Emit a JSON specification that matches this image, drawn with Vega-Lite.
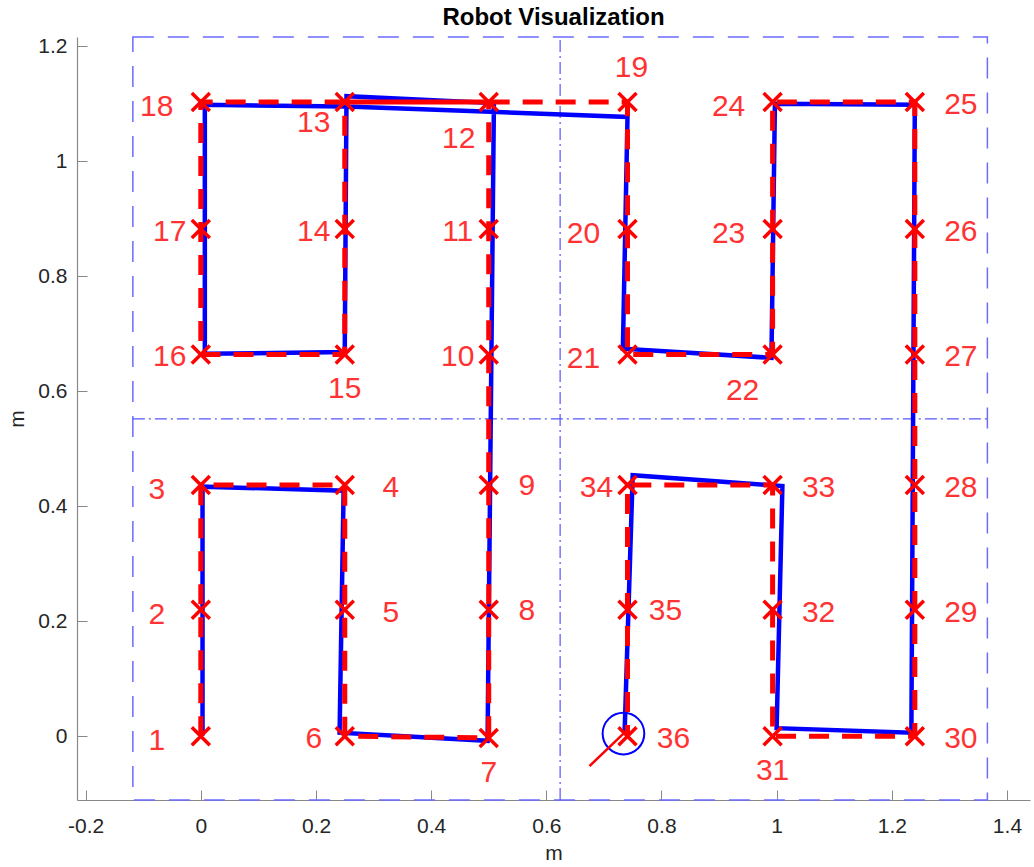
{
  "$schema": "https://vega.github.io/schema/vega-lite/v6.json",
  "width": 953,
  "height": 763,
  "autosize": {"type": "none"},
  "padding": {"left": 77, "top": 37, "right": 4, "bottom": 67},
  "title": {"text": "Robot Visualization", "font": "Liberation Sans", "fontSize": 24, "fontWeight": "bold", "color": "#000000", "offset": 5},
  "config": {
    "view": {"stroke": null},
    "axis": {
      "grid": false,
      "domainColor": "#888888",
      "domainWidth": 1.2,
      "tickColor": "#888888",
      "tickSize": -10,
      "labelFont": "Liberation Sans",
      "labelFontSize": 21,
      "labelColor": "#262626",
      "titleFont": "Liberation Sans",
      "titleFontSize": 21,
      "titleFontWeight": "normal",
      "titleColor": "#262626"
    }
  },
  "datasets": {
    "waypoints": [
      {"id": 1, "x": 0.0, "y": 0.0, "pos": "L1"},
      {"id": 2, "x": 0.0, "y": 0.22, "pos": "L1"},
      {"id": 3, "x": 0.0, "y": 0.437, "pos": "L1"},
      {"id": 4, "x": 0.25, "y": 0.437, "pos": "R"},
      {"id": 5, "x": 0.25, "y": 0.22, "pos": "R"},
      {"id": 6, "x": 0.25, "y": 0.0, "pos": "L2"},
      {"id": 7, "x": 0.5, "y": -0.003, "pos": "B"},
      {"id": 8, "x": 0.5, "y": 0.22, "pos": "R2"},
      {"id": 9, "x": 0.5, "y": 0.437, "pos": "R2"},
      {"id": 10, "x": 0.5, "y": 0.664, "pos": "L2"},
      {"id": 11, "x": 0.5, "y": 0.882, "pos": "L2"},
      {"id": 12, "x": 0.5, "y": 1.103, "pos": "BL"},
      {"id": 13, "x": 0.25, "y": 1.103, "pos": "LL"},
      {"id": 14, "x": 0.25, "y": 0.882, "pos": "L2"},
      {"id": 15, "x": 0.25, "y": 0.664, "pos": "B"},
      {"id": 16, "x": 0.0, "y": 0.664, "pos": "L2"},
      {"id": 17, "x": 0.0, "y": 0.882, "pos": "L2"},
      {"id": 18, "x": 0.0, "y": 1.103, "pos": "L1"},
      {"id": 19, "x": 0.741, "y": 1.103, "pos": "A"},
      {"id": 20, "x": 0.741, "y": 0.882, "pos": "L1"},
      {"id": 21, "x": 0.741, "y": 0.664, "pos": "L1"},
      {"id": 22, "x": 0.993, "y": 0.664, "pos": "BL"},
      {"id": 23, "x": 0.993, "y": 0.882, "pos": "L1"},
      {"id": 24, "x": 0.993, "y": 1.103, "pos": "L1"},
      {"id": 25, "x": 1.24, "y": 1.103, "pos": "R"},
      {"id": 26, "x": 1.24, "y": 0.882, "pos": "R"},
      {"id": 27, "x": 1.24, "y": 0.664, "pos": "R"},
      {"id": 28, "x": 1.24, "y": 0.437, "pos": "R"},
      {"id": 29, "x": 1.24, "y": 0.22, "pos": "R"},
      {"id": 30, "x": 1.24, "y": 0.0, "pos": "R"},
      {"id": 31, "x": 0.993, "y": 0.0, "pos": "B"},
      {"id": 32, "x": 0.993, "y": 0.22, "pos": "R"},
      {"id": 33, "x": 0.993, "y": 0.437, "pos": "R"},
      {"id": 34, "x": 0.741, "y": 0.437, "pos": "L2"},
      {"id": 35, "x": 0.741, "y": 0.22, "pos": "R2"},
      {"id": 36, "x": 0.741, "y": 0.0, "pos": "R"}
    ],
    "trajectory": [
      {"order": 1, "x": 0.003, "y": 0.001},
      {"order": 2, "x": 0.003, "y": 0.434},
      {"order": 3, "x": 0.248, "y": 0.427},
      {"order": 4, "x": 0.241, "y": 0.006},
      {"order": 5, "x": 0.498, "y": -0.008},
      {"order": 6, "x": 0.509, "y": 1.101},
      {"order": 7, "x": 0.253, "y": 1.113},
      {"order": 8, "x": 0.25, "y": 0.668},
      {"order": 9, "x": 0.007, "y": 0.665},
      {"order": 10, "x": 0.007, "y": 1.098},
      {"order": 11, "x": 0.253, "y": 1.095},
      {"order": 12, "x": 0.503, "y": 1.086},
      {"order": 13, "x": 0.741, "y": 1.077},
      {"order": 14, "x": 0.733, "y": 0.674},
      {"order": 15, "x": 0.991, "y": 0.658},
      {"order": 16, "x": 0.997, "y": 1.1},
      {"order": 17, "x": 1.24, "y": 1.098},
      {"order": 18, "x": 1.234, "y": 0.006},
      {"order": 19, "x": 1.0, "y": 0.014},
      {"order": 20, "x": 1.01, "y": 0.435},
      {"order": 21, "x": 0.75, "y": 0.454},
      {"order": 22, "x": 0.736, "y": 0.007}
    ],
    "boundary": [{"x": -0.118, "x2": 1.366, "y": -0.111, "y2": 1.216}],
    "dividers": [
      {"x": 0.624, "x2": 0.624, "y": -0.111, "y2": 1.216},
      {"x": -0.118, "x2": 1.366, "y": 0.552, "y2": 0.552}
    ],
    "robot": [{"x": 0.734, "y": 0.0045, "x2": 0.675, "y2": -0.052}]
  },
  "encoding": {
    "x": {
      "field": "x", "type": "quantitative", "title": "m",
      "scale": {"domain": [-0.215, 1.44], "nice": false, "zero": false},
      "axis": {"values": [-0.2, 0, 0.2, 0.4, 0.6, 0.8, 1, 1.2, 1.4], "labelPadding": 25, "titlePadding": 6, "labelExpr": "replace(format(datum.value, '~g'), '\u2212', '-')"}
    },
    "y": {
      "field": "y", "type": "quantitative", "title": "m",
      "scale": {"domain": [-0.111, 1.216], "nice": false, "zero": false},
      "axis": {"values": [0, 0.2, 0.4, 0.6, 0.8, 1, 1.2], "labelPadding": 20, "titlePadding": 10, "labelExpr": "replace(format(datum.value, '~g'), '\u2212', '-')"}
    }
  },
  "layer": [
    {
      "data": {"name": "boundary"},
      "mark": {"type": "rect", "fill": null, "fillOpacity": 0, "stroke": "#6b6bff", "strokeWidth": 1.5, "strokeDash": [21, 14]},
      "encoding": {"x2": {"field": "x2"}, "y2": {"field": "y2"}}
    },
    {
      "data": {"name": "dividers"},
      "mark": {"type": "rule", "stroke": "#5555ff", "strokeWidth": 1.2, "strokeDash": [12, 4, 2, 4]},
      "encoding": {"x2": {"field": "x2"}, "y2": {"field": "y2"}}
    },
    {
      "data": {"name": "trajectory"},
      "mark": {"type": "line", "color": "#0000ff", "strokeWidth": 4.5, "strokeJoin": "miter"},
      "encoding": {"order": {"field": "order", "type": "quantitative"}}
    },
    {
      "data": {"name": "waypoints"},
      "mark": {"type": "line", "color": "#ff0000", "strokeWidth": 5, "strokeDash": [20, 13]},
      "encoding": {"order": {"field": "id", "type": "quantitative"}}
    },
    {
      "data": {"name": "waypoints"},
      "mark": {"type": "point", "shape": "M-1,-1L1,1M-1,1L1,-1", "filled": false, "stroke": "#ff0000", "strokeWidth": 3.5, "size": 324, "opacity": 1}
    },
    {
      "data": {"name": "robot"},
      "mark": {"type": "point", "shape": "circle", "filled": false, "stroke": "#0000ff", "strokeWidth": 2, "size": 1735, "opacity": 1}
    },
    {
      "data": {"name": "robot"},
      "mark": {"type": "rule", "stroke": "#ff0000", "strokeWidth": 2.5},
      "encoding": {"x2": {"field": "x2"}, "y2": {"field": "y2"}}
    },
    {
      "data": {"name": "waypoints"},
      "transform": [{"filter": "datum.pos == 'L1'"}],
      "mark": {"type": "text", "font": "Liberation Sans", "fontSize": 30, "color": "#ff3333", "align": "center", "baseline": "middle", "dx": -44, "dy": 5},
      "encoding": {"text": {"field": "id"}}
    },
    {
      "data": {"name": "waypoints"},
      "transform": [{"filter": "datum.pos == 'L2'"}],
      "mark": {"type": "text", "font": "Liberation Sans", "fontSize": 30, "color": "#ff3333", "align": "center", "baseline": "middle", "dx": -31, "dy": 3},
      "encoding": {"text": {"field": "id"}}
    },
    {
      "data": {"name": "waypoints"},
      "transform": [{"filter": "datum.pos == 'R'"}],
      "mark": {"type": "text", "font": "Liberation Sans", "fontSize": 30, "color": "#ff3333", "align": "center", "baseline": "middle", "dx": 46, "dy": 3},
      "encoding": {"text": {"field": "id"}}
    },
    {
      "data": {"name": "waypoints"},
      "transform": [{"filter": "datum.pos == 'R2'"}],
      "mark": {"type": "text", "font": "Liberation Sans", "fontSize": 30, "color": "#ff3333", "align": "center", "baseline": "middle", "dx": 38, "dy": 1},
      "encoding": {"text": {"field": "id"}}
    },
    {
      "data": {"name": "waypoints"},
      "transform": [{"filter": "datum.pos == 'B'"}],
      "mark": {"type": "text", "font": "Liberation Sans", "fontSize": 30, "color": "#ff3333", "align": "center", "baseline": "middle", "dx": 0, "dy": 35},
      "encoding": {"text": {"field": "id"}}
    },
    {
      "data": {"name": "waypoints"},
      "transform": [{"filter": "datum.pos == 'A'"}],
      "mark": {"type": "text", "font": "Liberation Sans", "fontSize": 30, "color": "#ff3333", "align": "center", "baseline": "middle", "dx": 4, "dy": -34},
      "encoding": {"text": {"field": "id"}}
    },
    {
      "data": {"name": "waypoints"},
      "transform": [{"filter": "datum.pos == 'BL'"}],
      "mark": {"type": "text", "font": "Liberation Sans", "fontSize": 30, "color": "#ff3333", "align": "center", "baseline": "middle", "dx": -30, "dy": 37},
      "encoding": {"text": {"field": "id"}}
    },
    {
      "data": {"name": "waypoints"},
      "transform": [{"filter": "datum.pos == 'LL'"}],
      "mark": {"type": "text", "font": "Liberation Sans", "fontSize": 30, "color": "#ff3333", "align": "center", "baseline": "middle", "dx": -31, "dy": 21},
      "encoding": {"text": {"field": "id"}}
    }
  ]
}
